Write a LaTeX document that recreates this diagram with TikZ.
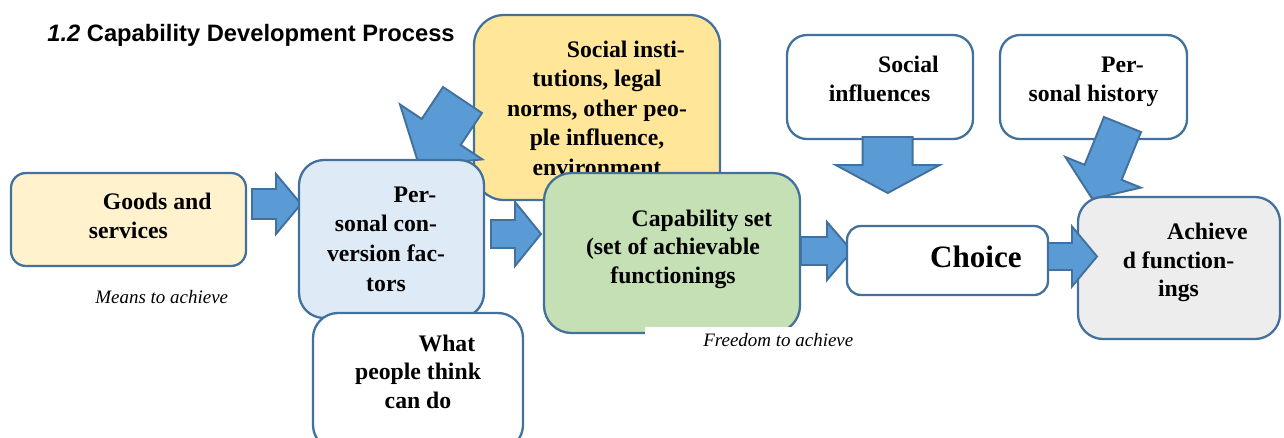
\documentclass[tikz,border=0pt]{standalone}
\usepackage{fontspec}
\setmainfont{Liberation Serif}
\newfontfamily\headfont{Liberation Sans}
\usetikzlibrary{fit}

\definecolor{edge}{HTML}{41719C}
\definecolor{arrowfill}{HTML}{5B9BD5}
\definecolor{goodsfill}{HTML}{FFF2CC}
\definecolor{convfill}{HTML}{DEEBF7}
\definecolor{instfill}{HTML}{FFE699}
\definecolor{capfill}{HTML}{C5E0B4}
\definecolor{achfill}{HTML}{EDEDED}

% first-line indent of the box paragraphs
\newcommand\firstindent{\hspace*{32.9pt}}
% block arrow: tail centre (#1,#2), direction #3, shaft length #4,
% shaft half-width #5, head half-width #6, head length #7
\newcommand\fatarrow[7]{%
  \draw[arrowbody, shift={(#1,#2)}, rotate=#3]
    (0,-#5) -- (#4,-#5) -- (#4,-#6) -- (#4+#7,0) -- (#4,#6) -- (#4,#5) -- (0,#5) -- cycle;}

\begin{document}
% text nodes are placed by the baseline of their last line
\begin{tikzpicture}[x=0.02cm, y=-0.02cm,
  box/.style={draw=edge, line width=1.3pt, inner sep=0pt},
  arrowbody/.style={draw=edge, fill=arrowfill, line width=1.1pt, line join=miter},
  boxtext/.style={font=\fontsize{13.5}{16.2}\selectfont\bfseries, align=center, anchor=base, inner sep=0pt},
  note/.style={font=\fontsize{10.8}{13}\selectfont\itshape, anchor=base west, inner sep=0pt}]

\useasboundingbox (0,0) rectangle (1284,437);
\clip (0,0) rectangle (1284,437);
\fill[white] (0,0) rectangle (1284,437);

% heading
\node[anchor=base west, inner sep=0pt, font=\headfont\bfseries\fontsize{13.5}{16}\selectfont]
  (title) at (47,41.7) {\textit{1.2} Capability Development Process};

% means
\node[box, fill=goodsfill, rounded corners=0.3cm, fit={(11,173)(246,266)}] (goods) {};
\node[boxtext] (goodstext) at (128.3,238) {\firstindent Goods and\\services};
\node[note] (means) at (95,303) {Means to achieve};
\fatarrow{252}{204}{0}{24}{15}{30}{25}

% institutions and their influence on conversion
\node[box, fill=instfill, rounded corners=0.6cm, fit={(474,15)(720,200)}] (inst) {};
\node[boxtext, font=\fontsize{13.5}{16.7}\selectfont\bfseries] (insttext) at (597,175)
  {\firstindent Social insti-\\tutions, legal\\norms, other peo-\\ple influence,\\environment};
\fatarrow{462.5}{100}{236.3}{38.4}{23.4}{49.5}{40}

% conversion factors
\node[box, fill=convfill, rounded corners=0.5cm, fit={(299,160)(484,318)}] (conv) {};
\node[boxtext, font=\fontsize{13.5}{16.8}\selectfont\bfseries] (convtext) at (386,291)
  {\firstindent Per-\\sonal con-\\version fac-\\tors};
\node[box, fill=white, rounded corners=0.5cm, fit={(313,313)(523,450)}] (think) {};
\node[boxtext] (thinktext) at (418,408) {\firstindent What\\people think\\can do};
\fatarrow{491}{234}{0}{24}{14}{32}{26}

% capability set
\node[box, fill=capfill, rounded corners=0.55cm, fit={(544,173)(800,333)}] (cap) {};
\node[boxtext] (captext) at (673,283) {\firstindent Capability set\\(set of achievable\\functionings};
\node[fill=white, inner sep=0pt, fit={(645,327)(870,365)}] (freedombg) {};
\node[note] (freedom) at (703,346) {Freedom to achieve};
\fatarrow{801}{251}{0}{26}{14}{29}{25}

% choice
\node[box, fill=white, rounded corners=0.4cm, fit={(787,35)(973,139)}] (socinf) {};
\node[boxtext] (socinftext) at (879.5,101) {\firstindent Social\\influences};
\fatarrow{887.7}{137}{-90}{28}{25}{52}{28}
\node[box, fill=white, rounded corners=0.28cm, fit={(847,226)(1048,295)}] (choice) {};
\node[font=\fontsize{17.7}{20}\selectfont\bfseries, anchor=base, inner sep=0pt]
  (choicetext) at (947,267.3) {\firstindent Choice};

% achieved functionings
\node[box, fill=white, rounded corners=0.4cm, fit={(1000,35)(1187,139)}] (hist) {};
\node[boxtext] (histtext) at (1093.5,101) {\firstindent Per-\\sonal history};
\fatarrow{1122.5}{124.5}{247.9}{51.6}{20}{40.7}{28.7}
\node[box, fill=achfill, rounded corners=0.5cm, fit={(1078,197)(1280,339)}] (ach) {};
\node[boxtext] (achtext) at (1178.5,296.5) {\firstindent Achieve\\d function-\\ings};
\fatarrow{1048}{256.5}{0}{24}{13.5}{30}{25}

\end{tikzpicture}
\end{document}
